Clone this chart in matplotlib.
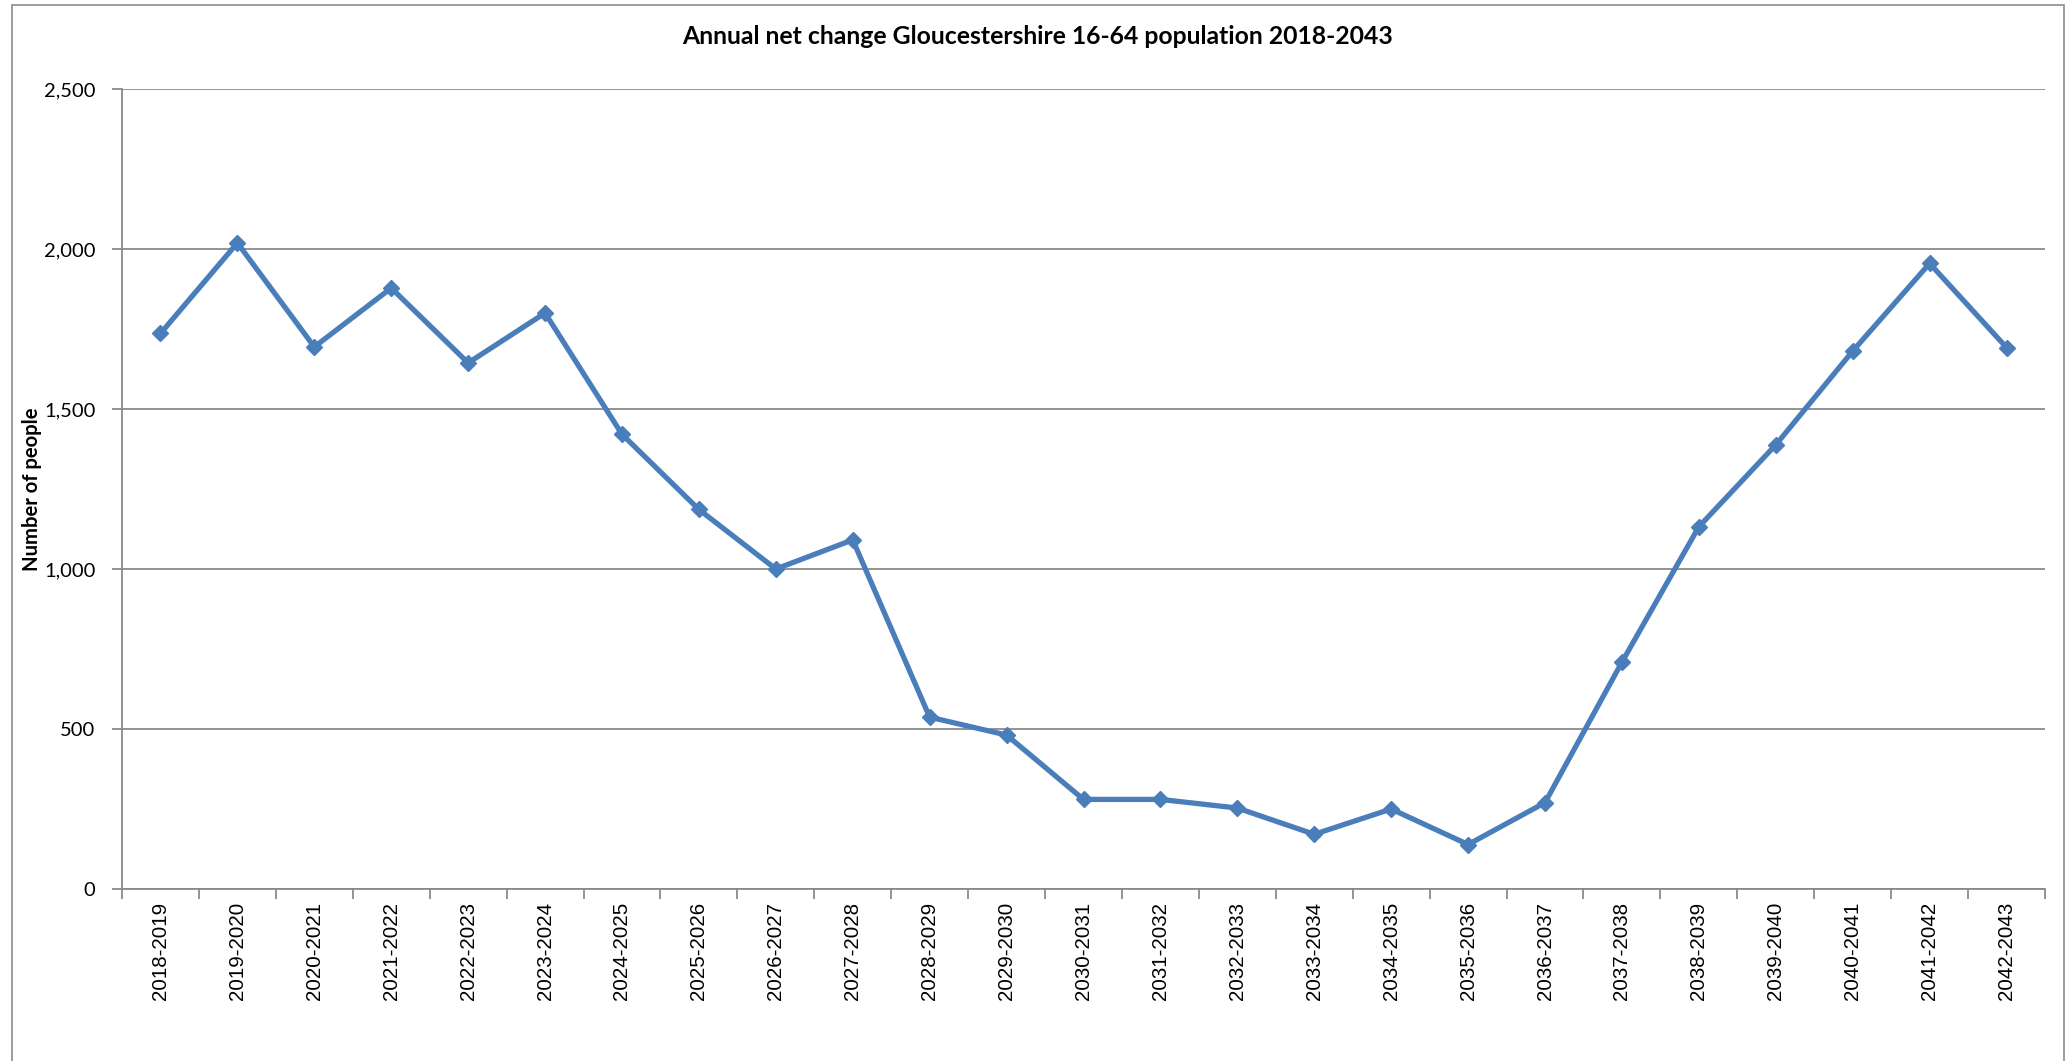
import matplotlib
matplotlib.use("Agg")
import matplotlib.pyplot as plt
from matplotlib.patches import Rectangle
from matplotlib.ticker import FixedLocator, FuncFormatter

periods = [
    "2018-2019", "2019-2020", "2020-2021", "2021-2022", "2022-2023",
    "2023-2024", "2024-2025", "2025-2026", "2026-2027", "2027-2028",
    "2028-2029", "2029-2030", "2030-2031", "2031-2032", "2032-2033",
    "2033-2034", "2034-2035", "2035-2036", "2036-2037", "2037-2038",
    "2038-2039", "2039-2040", "2040-2041", "2041-2042", "2042-2043",
]
net_change = [
    1736, 2019, 1694, 1878, 1644,
    1800, 1421, 1186, 1000, 1091,
    537, 481, 280, 280, 253,
    171, 250, 139, 270, 709,
    1132, 1388, 1681, 1955, 1692,
]
y_ticks = [0, 500, 1000, 1500, 2000, 2500]

title_text = "Annual net change Gloucestershire 16-64 population 2018-2043"
y_label = "Number of people"

W, H, DPI = 2071, 1061, 100
fig = plt.figure(figsize=(W / DPI, H / DPI), dpi=DPI)
fig.patch.set_facecolor("white")

# outer chart-area frame (bottom edge runs off the canvas)
fig.patches.append(Rectangle((12 / W, -0.05), (2064 - 12) / W, (H - 5) / H + 0.05,
                             transform=fig.transFigure, fill=False,
                             edgecolor="#8c8c8c", linewidth=1.2, zorder=0))

left, right = 122 / W, 2045 / W
bottom, top = (H - 889) / H, (H - 89) / H
ax = fig.add_axes([left, bottom, right - left, top - bottom])

x = list(range(len(periods)))
ax.plot(x, net_change, color="#4A7EBB", linewidth=3.8, marker="D",
        markersize=8, markerfacecolor="#4A7EBB", markeredgecolor="#4A7EBB",
        zorder=3, clip_on=False)

ax.set_xlim(-0.5, len(periods) - 0.5)
ax.set_ylim(0, 2500)

grid_color = "#8a8a8a"
ax.set_yticks(y_ticks)
ax.yaxis.set_major_formatter(FuncFormatter(lambda v, p: f"{int(v):,}"))
ax.grid(axis="y", color=grid_color, linewidth=1.3, zorder=1)
ax.set_axisbelow(True)

ax.set_xticks(x)
ax.set_xticklabels(periods, rotation=90, fontsize=14.8, family="Liberation Sans",
                   color="black")
ax.xaxis.set_minor_locator(FixedLocator([i - 0.5 for i in range(len(periods) + 1)]))
ax.tick_params(axis="x", which="major", length=0, pad=9)
ax.tick_params(axis="x", which="minor", length=7, width=1.3, color=grid_color)
ax.tick_params(axis="y", which="major", length=7, width=1.3, color=grid_color,
               pad=12, labelsize=14.5)
for lbl in ax.get_yticklabels():
    lbl.set_family("Lato")

for side in ("top", "right"):
    ax.spines[side].set_visible(False)
for side in ("left", "bottom"):
    ax.spines[side].set_color(grid_color)
    ax.spines[side].set_linewidth(1.3)

fig.text(1038 / W, 1 - 37 / H, title_text, ha="center", va="center",
         fontsize=17.8, fontweight="bold", family="Lato")
fig.text(32 / W, 1 - 489 / H, y_label, ha="center", va="center",
         rotation=90, fontsize=14.6, fontweight="bold", family="Lato")

fig.savefig("out.png", dpi=DPI, facecolor="white")
